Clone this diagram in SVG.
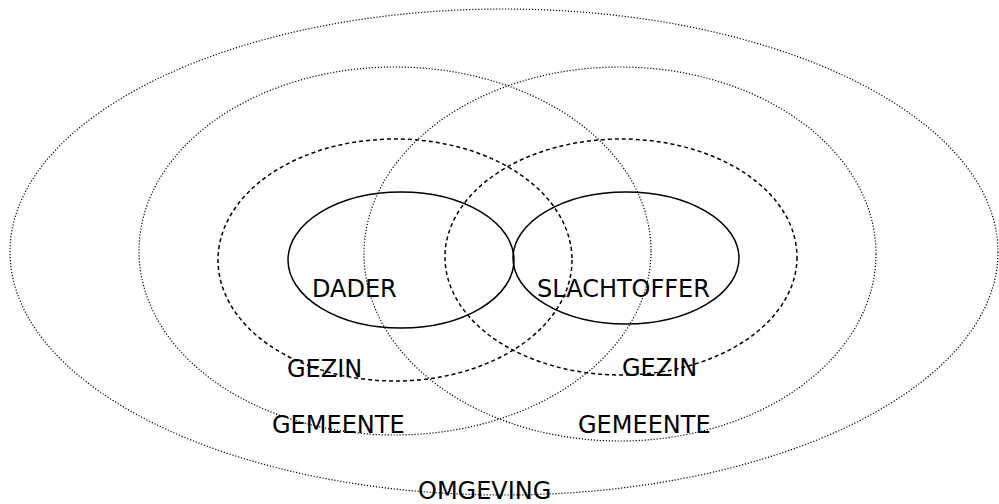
<svg xmlns="http://www.w3.org/2000/svg" width="999" height="504" viewBox="0 0 999 504">
<style>
.dot{fill:none;stroke:#000;stroke-width:1.2;stroke-dasharray:1.2 1.8}
.dash{fill:none;stroke:#000;stroke-width:1.5;stroke-dasharray:4 3}
.sol{fill:none;stroke:#000;stroke-width:1.5}
text{font-family:"DejaVu Sans",Verdana,sans-serif;font-size:24px;fill:#000}
</style>
<rect width="999" height="504" fill="#fff"/>
<g id="omgeving"><ellipse class="dot" cx="504" cy="252" rx="494" ry="243"/><text x="418" y="499">OMGEVING</text></g>
<g id="gemeente-dader"><ellipse class="dot" cx="395" cy="251" rx="256" ry="184"/><text x="272" y="433">GEMEENTE</text></g>
<g id="gemeente-slachtoffer"><ellipse class="dot" cx="620" cy="254" rx="256" ry="187"/><text x="578" y="433">GEMEENTE</text></g>
<g id="gezin-dader"><ellipse class="dash" cx="395" cy="260" rx="177" ry="121"/><text x="287" y="377">GEZIN</text></g>
<g id="gezin-slachtoffer"><ellipse class="dash" cx="621" cy="257" rx="176" ry="118"/><text x="622" y="376">GEZIN</text></g>
<g id="dader"><ellipse class="sol" cx="401" cy="260" rx="113" ry="68"/><text x="312" y="297">DADER</text></g>
<g id="slachtoffer"><ellipse class="sol" cx="626" cy="258" rx="113" ry="66"/><text x="537" y="297">SLACHTOFFER</text></g>
<g id="connectors"/>
</svg>
